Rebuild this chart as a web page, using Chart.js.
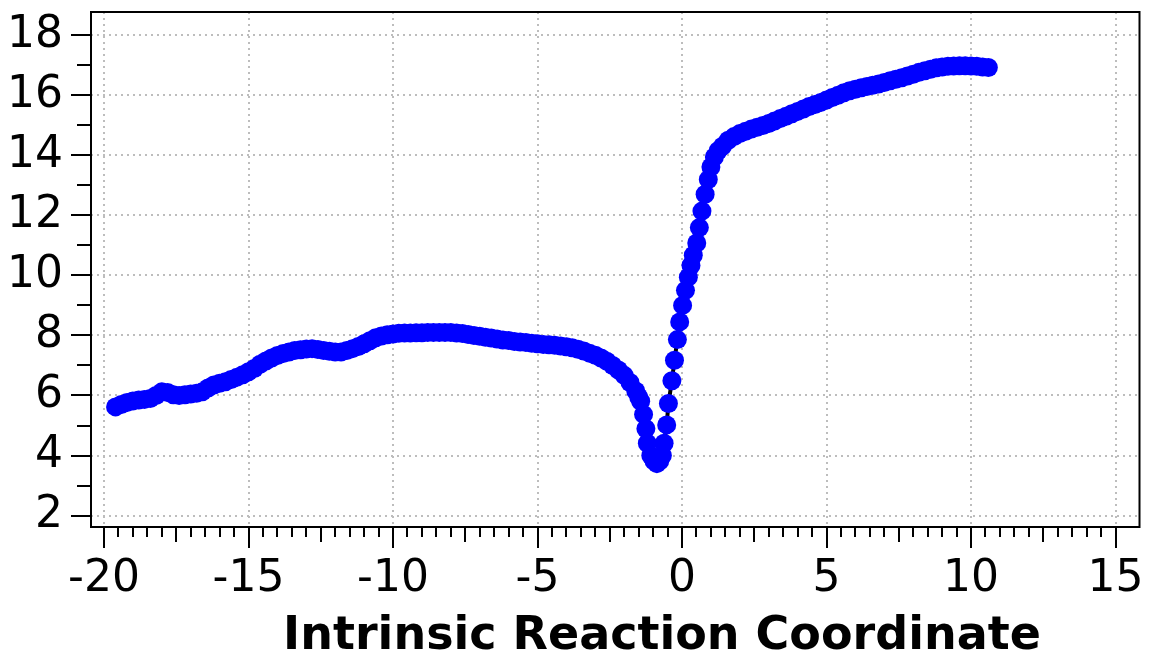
<!DOCTYPE html>
<html><head><meta charset="utf-8">
<script src="https://cdn.jsdelivr.net/npm/chart.js@4.4.0/dist/chart.umd.min.js"></script>
<style>html,body{margin:0;padding:0;background:#fff;overflow:hidden}#wrap{width:1149px;height:654px;position:relative}</style>
</head><body><div id="wrap"><canvas id="c" width="1149" height="654"></canvas></div>
<script>
const irc = [
-19.6,-19.4,-19.2,-19.0,-18.8,-18.6,-18.4,-18.2,-18.0,-17.8,-17.6,-17.4,-17.2,-17.0,-16.8,-16.6,-16.4,-16.2,-16.0,-15.8,
-15.6,-15.4,-15.2,-15.0,-14.8,-14.6,-14.4,-14.2,-14.0,-13.8,-13.6,-13.4,-13.2,-13.0,-12.8,-12.6,-12.4,-12.2,-12.0,-11.8,
-11.6,-11.4,-11.2,-11.0,-10.8,-10.6,-10.4,-10.2,-10.0,-9.8,-9.6,-9.4,-9.2,-9.0,-8.8,-8.6,-8.4,-8.2,-8.0,-7.8,
-7.6,-7.4,-7.2,-7.0,-6.8,-6.6,-6.4,-6.2,-6.0,-5.8,-5.6,-5.4,-5.2,-5.0,-4.8,-4.6,-4.4,-4.2,-4.0,-3.8,
-3.6,-3.4,-3.2,-3.0,-2.8,-2.6,-2.4,-2.2,-2.0,-1.8,-1.6,-1.5,
-1.43,-1.33,-1.25,-1.2,-1.08,-0.97,-0.87,-0.77,-0.68,-0.62,-0.53,-0.47,-0.35,-0.26,-0.16,-0.08,0.02,0.12,0.22,0.31,
0.39,0.51,0.6,0.69,0.8,0.91,1.0,1.12,1.25,
1.4,1.6,1.8,2.0,2.2,2.4,2.6,2.8,3.0,3.2,3.4,3.6,3.8,4.0,4.2,4.4,4.6,4.8,5.0,5.2,
5.4,5.6,5.8,6.0,6.2,6.4,6.6,6.8,7.0,7.2,7.4,7.6,7.8,8.0,8.2,8.4,8.6,8.8,9.0,9.2,
9.4,9.6,9.8,10.0,10.2,10.4,10.6
];
const energy = [
5.62,5.70,5.77,5.82,5.85,5.87,5.90,6.00,6.12,6.10,6.02,6.00,6.02,6.05,6.07,6.12,6.25,6.35,6.41,6.46,
6.53,6.61,6.69,6.79,6.90,7.04,7.15,7.25,7.33,7.40,7.45,7.50,7.52,7.55,7.56,7.53,7.50,7.47,7.45,7.45,
7.50,7.56,7.63,7.72,7.82,7.92,7.98,8.02,8.05,8.07,8.08,8.08,8.09,8.09,8.10,8.10,8.10,8.10,8.10,8.08,
8.06,8.03,8.00,7.97,7.94,7.91,7.88,7.85,7.83,7.80,7.78,7.76,7.74,7.72,7.70,7.69,7.67,7.65,7.62,7.59,
7.54,7.48,7.41,7.34,7.25,7.14,7.00,6.85,6.67,6.43,6.15,5.95,
5.81,5.37,4.89,4.41,4.00,3.82,3.73,3.82,4.00,4.41,5.02,5.73,6.49,7.17,7.86,8.45,9.00,9.50,9.94,10.33,
10.67,11.08,11.59,12.14,12.70,13.19,13.61,13.94,14.15,
14.30,14.50,14.62,14.72,14.80,14.87,14.93,14.99,15.06,15.14,15.22,15.30,15.38,15.46,15.54,15.62,15.69,15.76,15.84,15.92,
16.00,16.08,16.15,16.20,16.25,16.29,16.33,16.37,16.42,16.48,16.53,16.58,16.64,16.70,16.76,16.81,16.86,16.91,16.94,16.96,
16.97,16.98,16.98,16.97,16.96,16.94,16.92
];
const xTicks = [-20,-15,-10,-5,0,5,10,15];
const yTicks = [2,4,6,8,10,12,14,16,18];
const xLabel = 'Intrinsic Reaction Coordinate';

const FONT = '"DejaVu Sans", "Liberation Sans", sans-serif';

function noPad(s) { s.paddingTop = 0; s.paddingBottom = 0; s.paddingLeft = 0; s.paddingRight = 0; }

const decor = {
  id: 'decor',
  afterDraw(chart) {
    const {ctx, chartArea: a, scales: {x, y}} = chart;
    ctx.save();
    ctx.strokeStyle = '#000';
    ctx.lineWidth = 2;
    // frame
    ctx.strokeRect(a.left, a.top, a.right - a.left, a.bottom - a.top);
    // x tick marks (major every 5, medium at 2.5, minor every 0.5)
    for (let i = -40; i <= 30; i++) {
      const v = i / 2;
      const px = Math.round(x.getPixelForValue(v));
      if (px < a.left || px > a.right) continue;
      const len = (i % 10 === 0) ? 21 : (i % 5 === 0) ? 15 : 10;
      ctx.beginPath(); ctx.moveTo(px, a.bottom); ctx.lineTo(px, a.bottom + len); ctx.stroke();
    }
    // y tick marks (major every 2, minor every 1)
    for (let v = 2; v <= 18; v++) {
      const py = Math.round(y.getPixelForValue(v));
      const len = (v % 2 === 0) ? 20 : 14;
      ctx.beginPath(); ctx.moveTo(a.left, py); ctx.lineTo(a.left - len, py); ctx.stroke();
    }
    // x axis title
    ctx.fillStyle = '#000';
    ctx.font = 'bold 46px ' + FONT;
    ctx.textAlign = 'center';
    ctx.textBaseline = 'alphabetic';
    ctx.fillText(xLabel, 662, 649);
    ctx.restore();
  }
};

new Chart(document.getElementById('c'), {
  type: 'scatter',
  data: {
    datasets: [{
      data: irc.map((v, i) => ({x: v, y: energy[i]})),
      showLine: true,
      borderColor: '#000000',
      borderWidth: 4,
      pointRadius: 9.5,
      pointHoverRadius: 9.5,
      pointBackgroundColor: '#0000ff',
      pointBorderColor: '#0000ff',
      pointBorderWidth: 0,
      tension: 0
    }]
  },
  options: {
    responsive: false,
    animation: false,
    devicePixelRatio: 1,
    layout: {padding: {left: 0, top: 12, right: 8, bottom: 0}},
    plugins: {legend: {display: false}, tooltip: {enabled: false}, title: {display: false}},
    scales: {
      x: {
        type: 'linear', min: -20.45, max: 15.83,
        afterBuildTicks: s => { s.ticks = xTicks.map(v => ({value: v})); },
        afterFit: s => { s.height = 127; noPad(s); },
        ticks: {color: '#000', font: {family: FONT, size: 44}, padding: 26, maxRotation: 0, autoSkip: false},
        grid: {color: '#bdbdbd', lineWidth: 2, drawTicks: false},
        border: {display: false, dash: [2, 4]}
      },
      y: {
        type: 'linear', min: 1.62, max: 18.77,
        afterBuildTicks: s => { s.ticks = yTicks.map(v => ({value: v})); },
        afterFit: s => { s.width = 91; noPad(s); },
        ticks: {color: '#000', font: {family: FONT, size: 44}, padding: 28, autoSkip: false},
        grid: {color: '#bdbdbd', lineWidth: 2, drawTicks: false},
        border: {display: false, dash: [2, 4]}
      }
    }
  },
  plugins: [decor]
});
</script>
</body></html>
